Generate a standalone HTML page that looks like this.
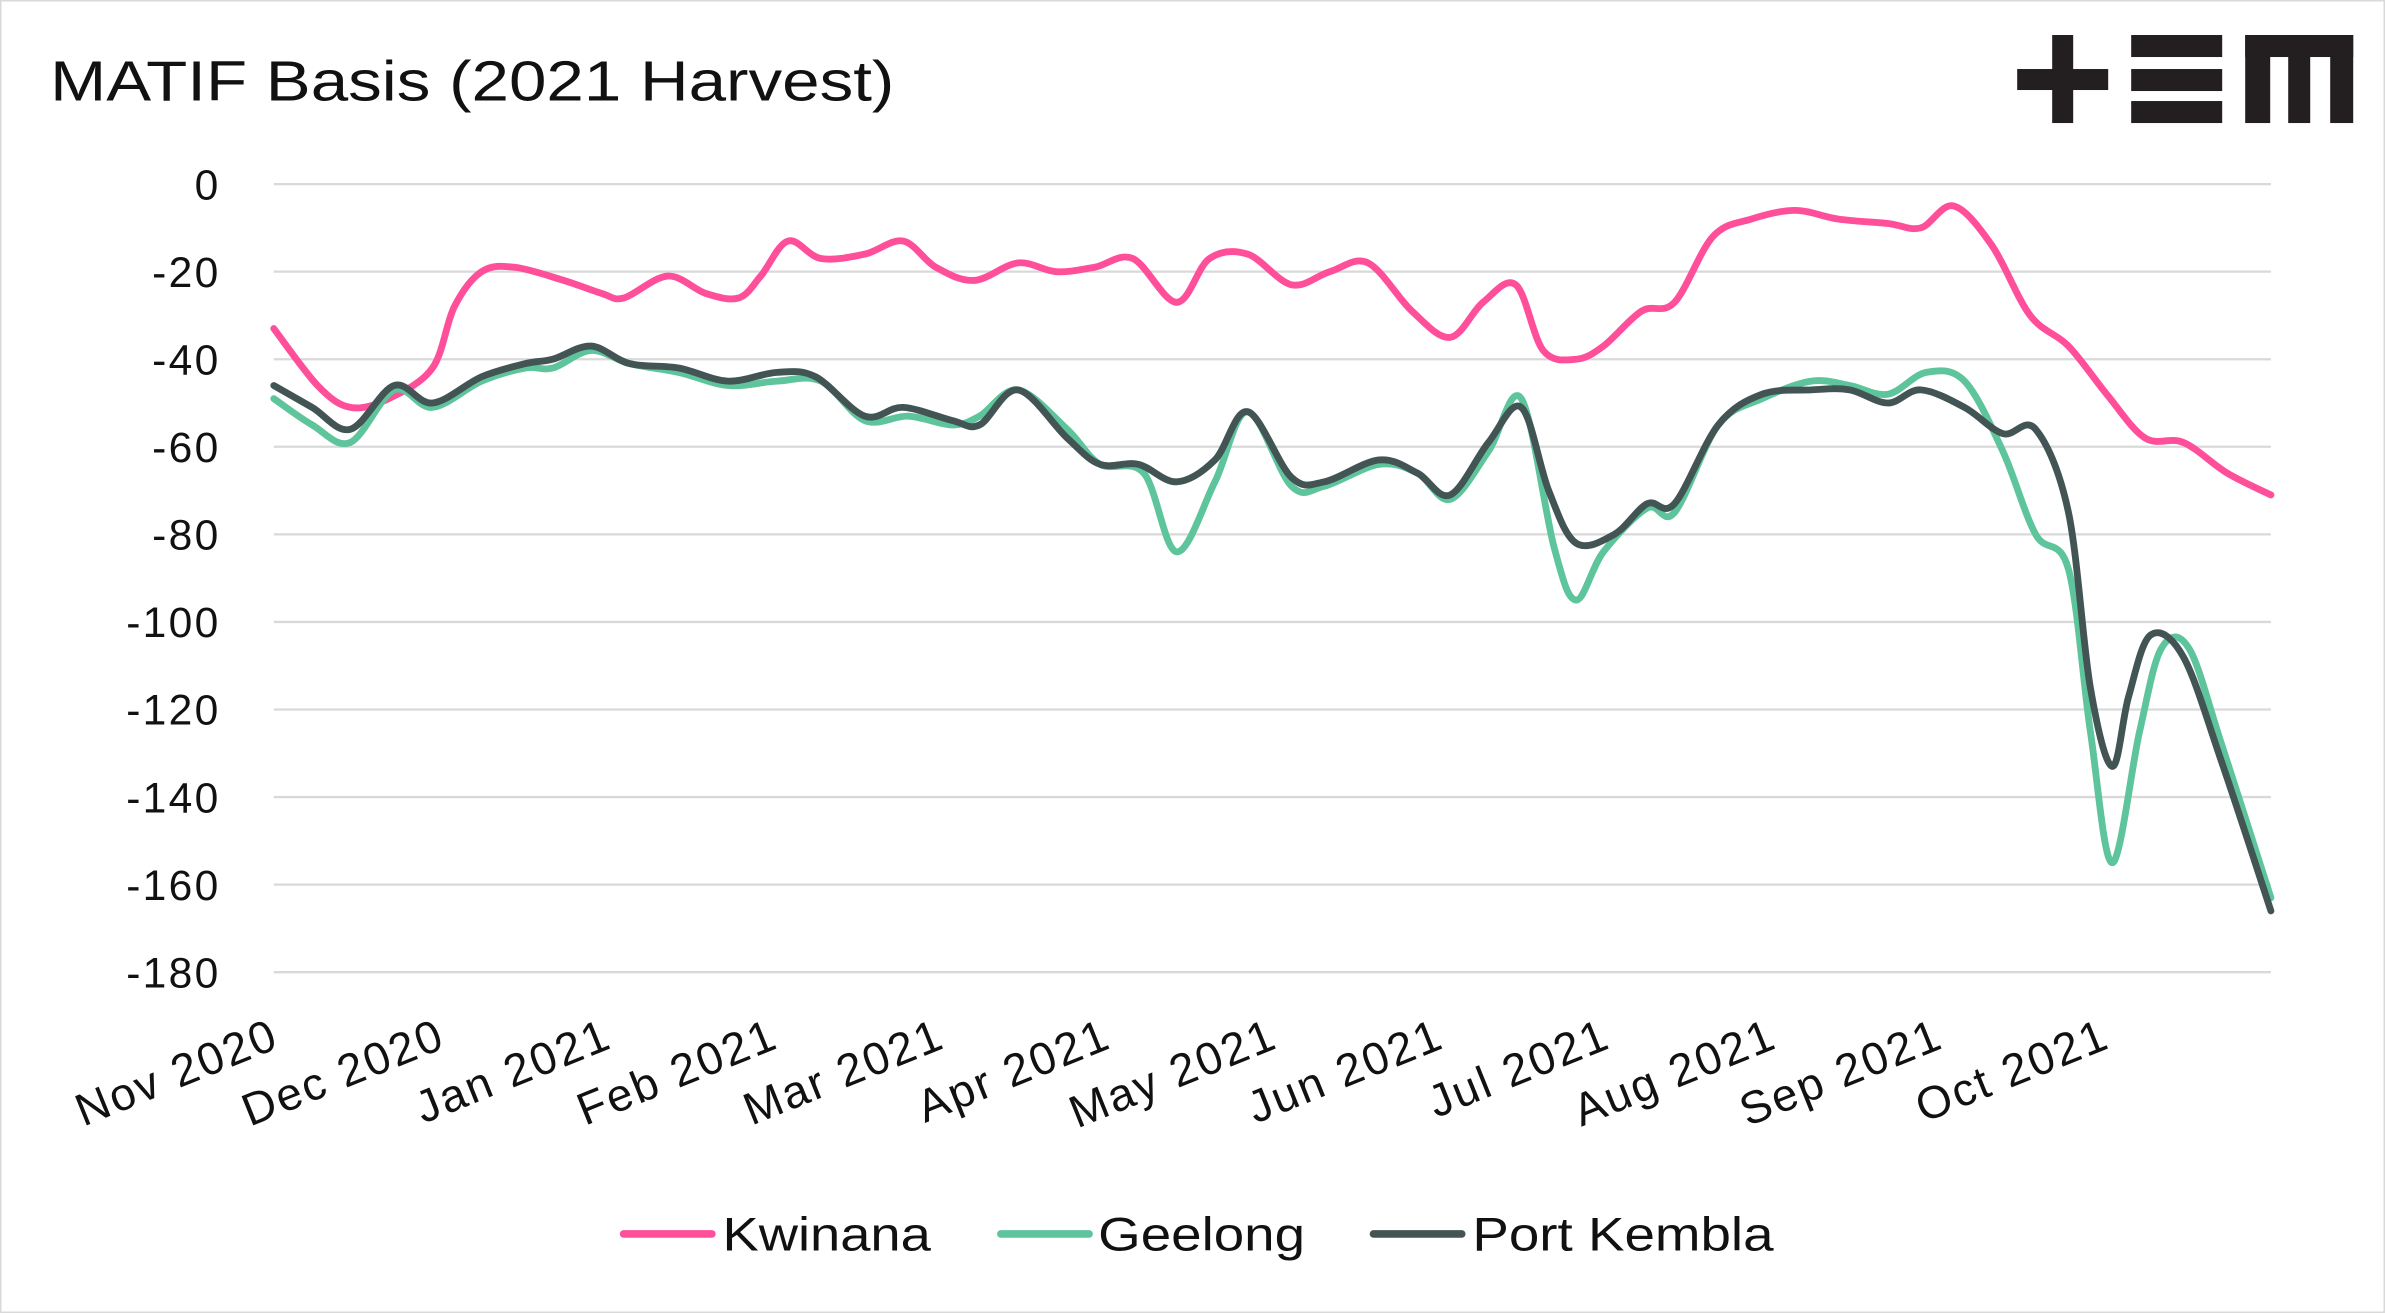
<!DOCTYPE html>
<html><head><meta charset="utf-8"><style>
html,body{margin:0;padding:0;background:#fff;}
svg{display:block;font-family:"Liberation Sans",sans-serif;}
</style></head><body>
<svg id="chart" width="2385" height="1313" viewBox="0 0 1568 863" preserveAspectRatio="none">
<rect x="0.5" y="0.5" width="1567" height="862" fill="#fff" stroke="#d9d9d9"/>
<text x="33" y="66" font-size="37" fill="#111" textLength="555" lengthAdjust="spacingAndGlyphs">MATIF Basis (2021 Harvest)</text>
<g transform="scale(0.6575)" fill="#231f20">
<rect x="2017" y="69" width="91" height="21"/><rect x="2052" y="35" width="21" height="88"/>
<rect x="2131" y="35" width="91" height="22"/><rect x="2131" y="69" width="91" height="22"/><rect x="2131" y="101" width="91" height="22"/>
<rect x="2245" y="35" width="108" height="22"/><rect x="2245" y="35" width="25" height="88"/><rect x="2288" y="35" width="22" height="88"/><rect x="2330" y="35" width="23" height="88"/>
</g>
<g id="grid"></g><g id="yticks"></g><g id="xticks"></g><g id="lines"></g>
<g>
<line x1="410" y1="811" x2="468" y2="811" stroke="#ff4f9b" stroke-width="5" stroke-linecap="round"/>
<text x="475" y="822" font-size="31" fill="#111" textLength="137" lengthAdjust="spacingAndGlyphs">Kwinana</text>
<line x1="658" y1="811" x2="716" y2="811" stroke="#5ec49c" stroke-width="5" stroke-linecap="round"/>
<text x="722" y="822" font-size="31" fill="#111" textLength="136" lengthAdjust="spacingAndGlyphs">Geelong</text>
<line x1="903" y1="811" x2="961" y2="811" stroke="#435454" stroke-width="5" stroke-linecap="round"/>
<text x="968" y="822" font-size="31" fill="#111" textLength="198" lengthAdjust="spacingAndGlyphs">Port Kembla</text>
</g>
</svg>
<script>
const yTicks=[0,-20,-40,-60,-80,-100,-120,-140,-160,-180];
const monthLabels=["Nov 2020","Dec 2020","Jan 2021","Feb 2021","Mar 2021","Apr 2021","May 2021","Jun 2021","Jul 2021","Aug 2021","Sep 2021","Oct 2021"];
const kwDays=[0,8,14,21,29,33,38,44,53,60,64,72,79,85,89,94,100,108,115,121,128,136,143,150,157,165,171,178,186,193,200,208,215,221,227,232,238,243,250,256,263,270,278,286,295,301,307,314,321,328,335,342,349,357,365];
const kwVals=[-33,-46,-51,-49,-42,-28,-20,-19,-22,-25,-26,-21,-25,-26,-21,-13,-17,-16,-13,-19,-22,-18,-20,-19,-17,-27,-17,-16,-23,-20,-18,-29,-35,-27,-23,-38,-40,-37,-29,-27,-12,-8,-6,-8,-9,-10,-5,-14,-30,-37,-48,-58,-59,-66,-71];
const geDays=[0,7,14,22,29,38,46,51,58,65,74,83,92,100,108,116,124,129,136,145,151,159,165,172,178,186,192,202,209,215,222,228,234,238,243,251,256,264,272,281,288,295,302,309,316,322,328,332,336,341,345,350,356,365];
const geVals=[-49,-55,-59,-47,-51,-45,-42,-42,-38,-41,-43,-46,-45,-45,-54,-53,-55,-53,-47,-56,-64,-66,-84,-68,-52,-69,-69,-64,-66,-72,-61,-49,-83,-95,-84,-74,-75,-55,-49,-45,-46,-48,-43,-45,-61,-80,-88,-125,-155,-125,-106,-106,-128,-163];
const pkDays=[0,7,14,22,29,38,46,51,58,65,74,83,92,99,108,115,124,129,136,145,151,158,165,172,178,186,192,202,209,215,222,228,233,238,245,251,256,264,272,281,288,295,301,309,316,322,328,332,336,339,343,349,356,365];
const pkVals=[-46,-51,-56,-46,-50,-44,-41,-40,-37,-41,-42,-45,-43,-44,-53,-51,-54,-55,-47,-58,-64,-64,-68,-63,-52,-67,-68,-63,-66,-71,-59,-51,-70,-82,-80,-73,-73,-55,-48,-47,-47,-50,-47,-51,-57,-56,-75,-115,-133,-117,-103,-108,-132,-166];
const NS="http://www.w3.org/2000/svg";
const X0=180,X1=1493,Y0=121,Y1=639;
function xs(d){return X0+(X1-X0)*d/365;}
function ys(v){return Y0+(Y1-Y0)*(v/-180);}
const grid=document.getElementById('grid'),yt=document.getElementById('yticks'),xt=document.getElementById('xticks'),lines=document.getElementById('lines');
yTicks.forEach(v=>{
 const l=document.createElementNS(NS,'line');
 l.setAttribute('x1',X0);l.setAttribute('x2',X1);l.setAttribute('y1',ys(v));l.setAttribute('y2',ys(v));
 l.setAttribute('stroke','#d9d9d9');l.setAttribute('stroke-width','1.5');
 
 
 grid.appendChild(l);
 const t=document.createElementNS(NS,'text');
 t.setAttribute('x',145);t.setAttribute('y',ys(v)+10);t.setAttribute('text-anchor','end');t.setAttribute('font-size','28');t.setAttribute('letter-spacing','1.5');t.setAttribute('fill','#111');
 t.textContent=v;
 
 
 yt.appendChild(t);
});
monthLabels.forEach((m,i)=>{
 const x=X0+(X1-X0)*i/12+5,y=688;
 const t=document.createElementNS(NS,'text');
 t.setAttribute('x',x);t.setAttribute('y',y);t.setAttribute('text-anchor','end');t.setAttribute('font-size','30');t.setAttribute('letter-spacing','1.5');t.setAttribute('fill','#111');
 t.setAttribute('transform','rotate(-22 '+x+' '+y+')');
 t.textContent=m;
 
 
 xt.appendChild(t);
});
function path(days,vals){
 const p=days.map((d,i)=>[xs(d),ys(vals[i])]);
 let s='M'+p[0][0]+','+p[0][1];
 for(let i=0;i<p.length-1;i++){
  const a=p[Math.max(0,i-1)],b=p[i],c=p[i+1],d=p[Math.min(p.length-1,i+2)];
  s+=' C'+(b[0]+(c[0]-a[0])/6)+','+(b[1]+(c[1]-a[1])/6)+' '+(c[0]-(d[0]-b[0])/6)+','+(c[1]-(d[1]-b[1])/6)+' '+c[0]+','+c[1];
 }
 return s;
}
function addLine(days,vals,color,name){
 const el=document.createElementNS(NS,'path');
 el.setAttribute('d',path(days,vals));el.setAttribute('fill','none');el.setAttribute('stroke',color);
 el.setAttribute('stroke-width','4.5');el.setAttribute('stroke-linejoin','round');el.setAttribute('stroke-linecap','round');
 
 
 lines.appendChild(el);
}
addLine(kwDays,kwVals,'#ff4f9b','kwinana-line');
addLine(geDays,geVals,'#5ec49c','geelong-line');
addLine(pkDays,pkVals,'#435454','port-kembla-line');
</script>
</body></html>
